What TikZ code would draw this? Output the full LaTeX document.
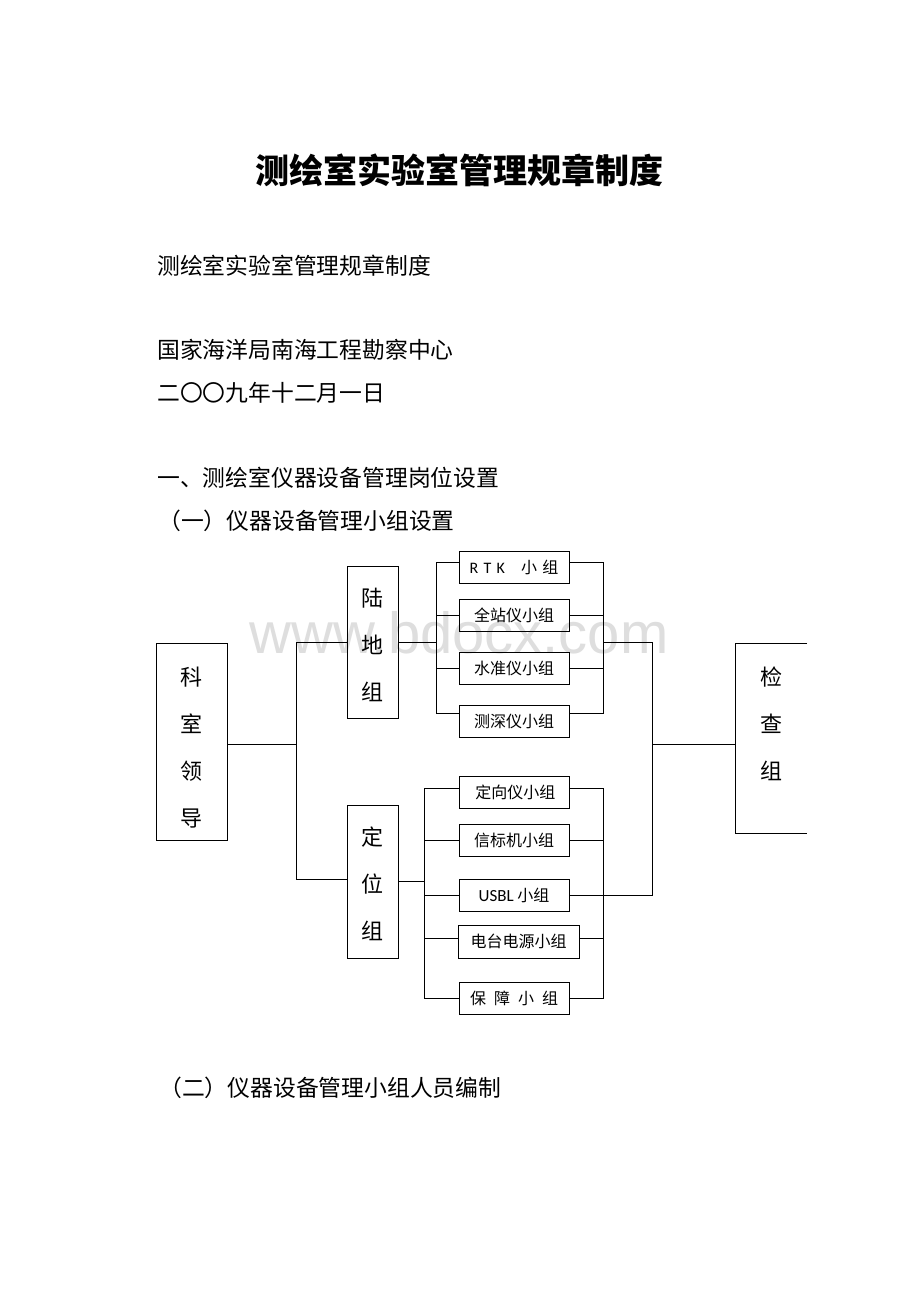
\documentclass[tikz,border=0pt]{standalone}
\usepackage{fontspec}
\newfontfamily\cjk{Noto Sans CJK SC}
\newfontfamily\latinsans{Carlito}
\newfontfamily\wmfont{Liberation Sans}
\definecolor{wmgray}{HTML}{DEDEDE}
\tikzset{
  bigbox/.style={draw, line width=0.9pt, minimum width=#1, inner sep=0pt, align=center},
  subbox/.style={draw, line width=0.9pt, minimum width=110pt, minimum height=32pt, inner sep=0pt, font=\cjk\fontsize{16}{17}\selectfont},
  conn/.style={line width=0.9pt},
  bodytext/.style={anchor=west, inner sep=0pt, font=\cjk\fontsize{22.8}{26}\selectfont},
  vchars/.style={font=\cjk\fontsize{22}{47}\selectfont, align=center, inner sep=0pt}
}
\begin{document}
\begin{tikzpicture}[x=1pt,y=-1pt]
\useasboundingbox (0,0) rectangle (920,1302);
\fill[white] (0,0) rectangle (920,1302);

% watermark
\node[anchor=base, inner sep=0pt, text=wmgray, font=\wmfont\fontsize{58}{60}\selectfont] (wm) at (459,653) {www.bdocx.com};

% texts
\node[inner sep=0pt, font=\cjk\bfseries\fontsize{34}{36}\selectfont] (title) at (459,170) {测绘室实验室管理规章制度};
\node[bodytext] (t1) at (157,266) {测绘室实验室管理规章制度};
\node[bodytext] (t2) at (157,350) {国家海洋局南海工程勘察中心};
\node[bodytext] (t3) at (157,393) {二〇〇九年十二月一日};
\node[bodytext] (t4) at (157,478) {一、测绘室仪器设备管理岗位设置};
\node[bodytext] (t5) at (158,521) {（一）仪器设备管理小组设置};
\node[bodytext] (t6) at (159,1088) {（二）仪器设备管理小组人员编制};

% main boxes
\node[bigbox=71pt, minimum height=197pt] (ks) at (191.5,741.5) {};
\node[vchars] at ([yshift=-6pt]ks.center) {科\\室\\领\\导};
\node[bigbox=51pt, minimum height=152pt] (lu) at (372.5,642) {};
\node[vchars] at ([yshift=-3pt]lu.center) {陆\\地\\组};
\node[bigbox=51pt, minimum height=153pt] (dw) at (372.5,881.5) {};
\node[vchars] at ([yshift=-2pt]dw.center) {定\\位\\组};
\node[minimum width=71pt, minimum height=189pt, inner sep=0pt] (jc) at (771.5,738.5) {};
\node[vchars] at ([yshift=14.5pt]jc.center) {检\\查\\组};
\draw[conn] (jc.north east) -- (jc.north west) -- (jc.south west) -- (jc.south east);

% sub boxes
\node[subbox] (rtk) at (514,567) {{\latinsans R\,\,T\,\,K}\quad 小\,\,组};
\node[subbox] (qz) at (514,615) {全站仪小组};
\node[subbox] (sz) at (514,668.5) {水准仪小组};
\node[subbox] (cs) at (514,721) {测深仪小组};
\node[subbox] (dx) at (514,792) {\,定向仪小组};
\node[subbox] (xb) at (514,840) {信标机小组};
\node[subbox] (usbl) at (514,895.5) {{\latinsans\fontsize{17}{17}\selectfont USBL} 小组};
\node[subbox, minimum width=121pt, minimum height=33pt] (dt) at (518.5,941.5) {电台电源小组};
\node[subbox] (bz) at (514,998) {保\,\,\,障\,\,\,小\,\,\,组};

% bus coordinates
\coordinate (lbus) at (296,0);
\coordinate (landL) at (436,0);
\coordinate (posL) at (424,0);
\coordinate (subR) at (603,0);
\coordinate (outR) at (652,0);

% leader to groups
\draw[conn] ([yshift=-2.5pt]ks.east) -- ([yshift=-2.5pt]ks.east -| lbus);
\draw[conn] (lu.west) -- (lu.west -| lbus) -- ([yshift=2.5pt]dw.west -| lbus) -- ([yshift=2.5pt]dw.west);

% land group
\draw[conn] (lu.east) -- (lu.east -| landL);
\draw[conn] ([yshift=5pt]rtk.west) -- ([yshift=5pt]rtk.west -| landL) -- ([yshift=8pt]cs.west -| landL) -- ([yshift=8pt]cs.west);
\draw[conn] (qz.west) -- (qz.west -| landL);
\draw[conn] (sz.west) -- (sz.west -| landL);
\draw[conn] ([yshift=5pt]rtk.east) -- ([yshift=5pt]rtk.east -| subR) -- ([yshift=8pt]cs.east -| subR) -- ([yshift=8pt]cs.east);
\draw[conn] (qz.east) -- (qz.east -| subR);
\draw[conn] (sz.east) -- (sz.east -| subR);

% position group
\draw[conn] (dw.east) -- (dw.east -| posL);
\draw[conn] ([yshift=4pt]dx.west) -- ([yshift=4pt]dx.west -| posL) -- (bz.west -| posL) -- (bz.west);
\draw[conn] (xb.west) -- (xb.west -| posL);
\draw[conn] (usbl.west) -- (usbl.west -| posL);
\draw[conn] ([yshift=3.5pt]dt.west) -- ([yshift=3.5pt]dt.west -| posL);
\draw[conn] ([yshift=4pt]dx.east) -- ([yshift=4pt]dx.east -| subR) -- (bz.east -| subR) -- (bz.east);
\draw[conn] (xb.east) -- (xb.east -| subR);
\draw[conn] ([yshift=3.5pt]dt.east) -- ([yshift=3.5pt]dt.east -| subR);

% output bus to inspection
\draw[conn] (lu.east -| subR) -- (lu.east -| outR) -- (usbl.east -| outR) -- (usbl.east);
\draw[conn] ([yshift=-5.5pt]jc.west) -- ([yshift=-5.5pt]jc.west -| outR);
\end{tikzpicture}
\end{document}
